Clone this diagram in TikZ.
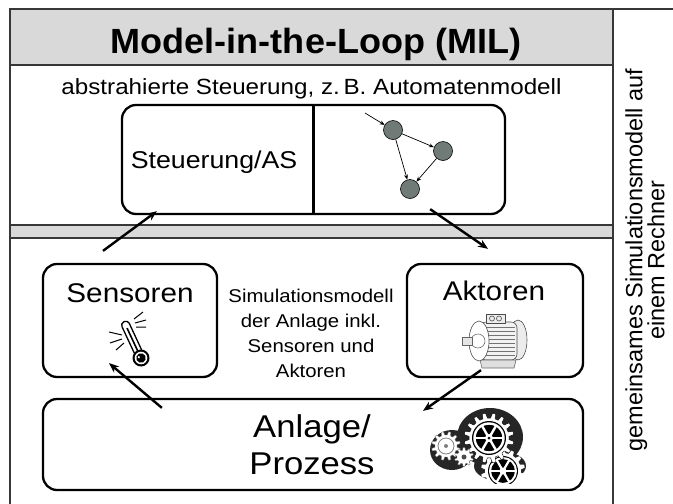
\documentclass[tikz,border=0pt]{standalone}
\usepackage{fontspec}
\setmainfont{Liberation Sans}[FakeStretch=1.1]
\newfontfamily\headfont{Liberation Sans}[FakeStretch=1.03]
\newfontfamily\sidefont{Liberation Sans}
\usetikzlibrary{arrows.meta, calc}

\definecolor{bandgray}{RGB}{217,217,217}
\definecolor{framegray}{RGB}{55,55,55}
\definecolor{stategray}{RGB}{112,122,118}

% toothed wheel: center, teeth, root radius, tip radius, path options
\newcommand{\cogwheel}[5]{%
  \begin{scope}[shift={#1}]
    \path[#5] (0:#3) \foreach \k in {1,...,#2}{
      -- ({(\k-0.8)*360/#2}:#3) -- ({(\k-0.65)*360/#2}:#4)
      -- ({(\k-0.35)*360/#2}:#4) -- ({(\k-0.2)*360/#2}:#3)} -- cycle;
  \end{scope}}

\begin{document}
\begin{tikzpicture}[
    x=1pt, y=-1pt,
    >={Stealth[length=10pt,width=8pt]},
    frame/.style={draw=framegray, line width=1.4},
    block/.style={
      rectangle,
      draw,
      rounded corners=14,
      line width=2.3,
      inner sep=0
    },
    flow/.style={->, line width=2.4},
    edge/.style={-{Stealth[length=5pt,width=4pt]}, line width=0.7},
    state/.style={circle, draw, fill=stategray, line width=0.6, minimum size=19, inner sep=0}
  ]
    \useasboundingbox (0,0) rectangle (673,504);

    % frame and grey bands
    \fill[bandgray] (10,9) rectangle (613,65);
    \fill[bandgray] (10,225) rectangle (613,238);
    \draw[frame] (10,504) -- (10,9) -- (673,9);
    \draw[frame] (613,9) -- (613,504);
    \draw[frame] (10,65) -- (613,65);
    \draw[frame] (10,225) -- (613,225) (10,238) -- (613,238);

    \node[font=\headfont\bfseries\fontsize{35}{40}\selectfont, anchor=base] (title) at (316,53) {Model-in-the-Loop (MIL)};
    \node[font=\fontsize{22}{26}\selectfont, anchor=base] (subtitle) at (311.5,94) {abstrahierte Steuerung, z.\,B. Automatenmodell};
    \node[font=\sidefont\fontsize{23.5}{22}\selectfont, align=center, rotate=90] (sidetext) at (645,260)
      {gemeinsames Simulationsmodell auf\\einem Rechner};

    % controller with automaton
    \node[block, minimum width=383, minimum height=109] (ctrl) at (313.5,159.5) {};
    \draw[line width=2.3] (ctrl.north) -- (ctrl.south);
    \node[font=\fontsize{24.3}{28}\selectfont, anchor=base] (ctrltext) at (214,168) {Steuerung/AS};
    \node[state] (s1) at (393,130) {};
    \node[state] (s2) at (443,151) {};
    \node[state] (s3) at (410,189) {};
    \coordinate (sin) at (365,113);
    \draw[edge] (sin) -- (s1);
    \draw[edge] (s1) -- (s2);
    \draw[edge] (s1) -- (s3);
    \draw[edge] (s2) -- (s3);

    % plant model
    \node[block, minimum width=174, minimum height=113] (sens) at (130,320.5) {};
    \node[block, minimum width=176, minimum height=113] (akt) at (495,320.5) {};
    \node[block, minimum width=540, minimum height=91] (anl) at (313,444.5) {};
    \node[font=\fontsize{27}{30}\selectfont, anchor=base] (senstext) at (130,302) {Sensoren};
    \node[font=\fontsize{27}{30}\selectfont, anchor=base] (akttext) at (494,300) {Aktoren};
    \node[font=\fontsize{31.5}{37}\selectfont, align=center] (anltext) at (312,445) {Anlage/\\Prozess};
    \node[font=\fontsize{18.5}{25}\selectfont, align=center] (simtext) at (311,333.5)
      {Simulationsmodell\\der Anlage inkl.\\Sensoren und\\Aktoren};

    % thermometer
    \begin{scope}[shift={(141,358)}, rotate=25]
      \draw[line width=1.3, fill=white, rounded corners=3.5] (-4,-4) rectangle (4,-40);
      \draw[line width=1.6] (0,-6) -- (0,-33);
      \fill (0,0) circle (8.5);
      \fill[white] (0,0) circle (6.3);
      \fill (0,0) circle (4.8);
      \fill[white] (-1.6,-1.6) circle (1.2);
    \end{scope}
    \draw[line width=1] (135,323) -- (146,320) (134,319) -- (143,312) (136,327) -- (146,327);
    \draw[line width=1] (122,335) -- (109,332) (122,339) -- (110,343) (124,343) -- (116,350);

    % motor
    \filldraw[fill=gray!15, draw=black!70, line width=0.6] (518,340) ellipse (9 and 20);
    \filldraw[fill=gray!10, draw=black!70, line width=0.6, rounded corners=6] (480,322) rectangle (517,360);
    \foreach \yy in {327,331,...,355}
      \draw[black!55, line width=0.6] (483,\yy) -- (515,\yy);
    \filldraw[fill=gray!25, draw=black!60, line width=0.6] (480,360) -- (516,360) -- (514,368) -- (482,368) -- cycle;
    \filldraw[fill=white, draw=black!70, line width=0.6] (479,341) ellipse (10 and 20);
    \draw[black!55, line width=0.6] (478,341) circle (7);
    \filldraw[fill=gray!20, draw=black!60, line width=0.6] (462,337) rectangle (472,345);
    \filldraw[fill=gray!15, draw=black!70, line width=0.6] (486,314) rectangle (505,323);
    \draw[black!70, line width=0.6] (492,318.5) circle (2.5) (499,318.5) circle (2.5);

    % gears
    \fill[black!85] (490,437) ellipse (33 and 29);
    \fill[black!85] (452,450) ellipse (22 and 20);
    \fill[black!85] (500,466) ellipse (26 and 15);
    \begin{scope}
      \clip (420,400) rectangle (540,483);
      \cogwheel{(503,471)}{14}{18}{22}{fill=white}
      \fill (503,471) circle (15);
      \draw[white, line width=2] (503,471) circle (13);
      \foreach \a in {0,60,...,300}
        \draw[white, line width=2.2] (503,471) -- ++(\a:13);
      \fill[white] (503,471) circle (3.5);
    \end{scope}
    \cogwheel{(489,438)}{16}{20}{25}{fill=white, draw=black, line width=0.4}
    \fill (489,438) circle (17);
    \draw[white, line width=2.4] (489,438) circle (14.5);
    \foreach \a in {0,60,...,300}
      \draw[white, line width=2.4] (489,438) -- ++(\a:14.5);
    \fill[white] (489,438) circle (4);
    \fill (489,438) circle (1.5);
    \cogwheel{(446,446)}{12}{11}{14.5}{fill=white, draw=black!60, line width=0.3}
    \draw[gray, line width=0.8] (446,446) circle (8);
    \fill[gray] (446,446) circle (2);
    \cogwheel{(464,457)}{10}{7}{9.5}{fill=white, draw=black!60, line width=0.3}
    \fill[black!70] (464,457) circle (2.5);

    % signal flow
    \draw[flow] ($(sens.north)+(-27,-12)$) -- ($(ctrl.south west)+(36,-4)$);
    \draw[flow] ($(ctrl.south east)+(-76,-6)$) -- ($(akt.north)+(-7,-14)$);
    \draw[flow] ($(akt.south)+(-14,-8)$) -- ($(anl.north)+(110,13)$);
    \draw[flow] ($(anl.north west)+(120,10)$) -- ($(sens.south)+(-21,-15)$);
\end{tikzpicture}
\end{document}
